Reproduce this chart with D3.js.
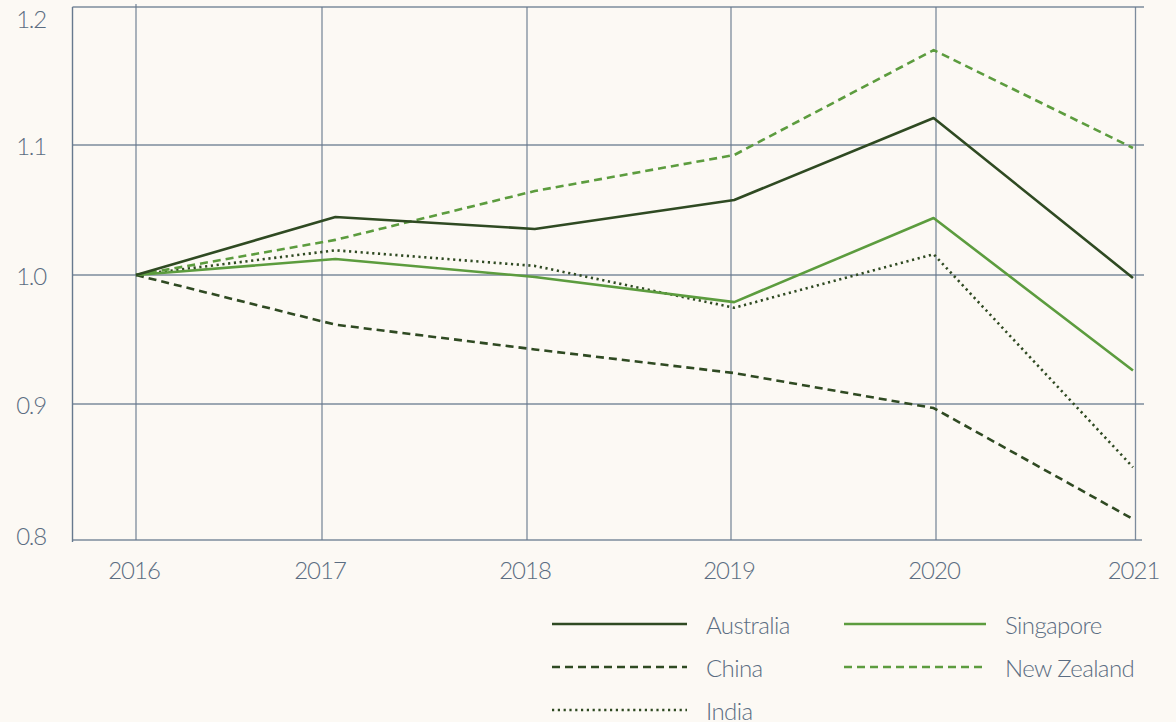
<!DOCTYPE html>
<html><head><meta charset="utf-8">
<script src="https://cdn.jsdelivr.net/npm/d3@7"></script>
<style>
html,body{margin:0;padding:0;background:#fcf9f4;}
svg{display:block;}
text{font-family:Lato,"Noto Sans",sans-serif;font-weight:300;fill:#5b6d82;}
</style></head><body>
<script>
const years = [2016, 2017, 2018, 2019, 2020, 2021];
const yTicks = [0.8, 0.9, 1.0, 1.1, 1.2];
const australia  = [1.0, 1.0446, 1.0354, 1.0577, 1.1196, 0.9977];
const newZealand = [1.0, 1.027, 1.0646, 1.0923, 1.1688, 1.0977];
const singapore  = [1.0, 1.0123, 0.9985, 0.979, 1.0438, 0.926];
const india      = [1.0, 1.019, 1.007, 0.9746, 1.016, 0.8535];
const china      = [1.0, 0.9615, 0.9423, 0.924, 0.897, 0.8154];
const seriesNames = ["Australia", "Singapore", "China", "New Zealand", "India"];

const W = 1176, H = 722;
const svg = d3.select("body").append("svg").attr("width", W).attr("height", H);
svg.append("rect").attr("width", W).attr("height", H).attr("fill", "#fcf9f4");

const darkG = "#2f4a22", lightG = "#5c9c3e", gridC = "#67798e";
const styles = {
  "Australia":   {color: darkG,  dash: null,  data: australia},
  "Singapore":   {color: lightG, dash: null,  data: singapore},
  "China":       {color: darkG,  dash: "8,5", data: china},
  "New Zealand": {color: lightG, dash: "8,5", data: newZealand},
  "India":       {color: darkG,  dash: "2.2,3.6", data: india}
};

// scales: gridline/label positions follow the reference's axis layout, data points are evenly spaced
const xAxisScale = d3.scaleLinear().domain(years).range([136, 322, 527, 731, 936, 1135.5]);
const xData = d3.scaleLinear().domain([2016, 2021]).range([136, 1133]);
const y = d3.scaleLinear().domain(yTicks).range([540, 404, 275, 145, 7]);

const left = 72.5, right = 1144;
const g = svg.append("g");
g.selectAll("line.h").data(yTicks).join("line")
  .attr("x1", left).attr("x2", d => d === 0.8 ? 1142 : right)
  .attr("y1", d => y(d)).attr("y2", d => y(d))
  .attr("stroke", gridC).attr("stroke-width", 1.3).attr("opacity", 0.85);
g.selectAll("line.v").data(years).join("line")
  .attr("x1", d => xAxisScale(d)).attr("x2", d => xAxisScale(d))
  .attr("y1", d => d === 2016 ? 4 : 7).attr("y2", 540)
  .attr("stroke", gridC).attr("stroke-width", 1.3).attr("opacity", 0.85);
g.append("line").attr("x1", left).attr("x2", left).attr("y1", 7).attr("y2", 542)
  .attr("stroke", gridC).attr("stroke-width", 1.4);

svg.selectAll("text.yl").data(yTicks).join("text")
  .attr("x", 46).attr("y", d => Math.min(535, Math.max(18, y(d))))
  .attr("text-anchor", "end").attr("dominant-baseline", "central")
  .attr("font-size", 24).attr("letter-spacing", -1.2)
  .text(d => d3.format(".1f")(d));
svg.selectAll("text.xl").data(years).join("text")
  .attr("x", d => xAxisScale(d) - 2).attr("y", 569)
  .attr("text-anchor", "middle").attr("dominant-baseline", "central")
  .attr("font-size", 24).attr("letter-spacing", -1)
  .text(d => d);

const line = d3.line().x((d, i) => xData(years[i])).y(d => y(d));
const drawOrder = ["China", "India", "Singapore", "New Zealand", "Australia"];
drawOrder.forEach(n => {
  const s = styles[n];
  svg.append("path").datum(s.data).attr("d", line)
    .attr("fill", "none").attr("stroke", s.color).attr("stroke-width", 2.6)
    .attr("stroke-dasharray", s.dash).attr("stroke-linejoin", "round");
});

// legend: [line x start, line length, text x, row y]
const legPos = {
  "Australia": [552, 135, 706, 624], "Singapore": [844, 142, 1005, 624],
  "China": [552, 135, 706, 667], "New Zealand": [844, 142, 1005, 667], "India": [552, 135, 706, 710]
};
seriesNames.forEach(n => {
  const s = styles[n], p = legPos[n];
  svg.append("line").attr("x1", p[0]).attr("x2", p[0] + p[1]).attr("y1", p[3]).attr("y2", p[3])
    .attr("stroke", s.color).attr("stroke-width", 2.6).attr("stroke-dasharray", s.dash);
  svg.append("text").attr("x", p[2]).attr("y", p[3]).attr("dominant-baseline", "central")
    .attr("font-size", 24).attr("letter-spacing", -0.6).text(n);
});
</script>
</body></html>
